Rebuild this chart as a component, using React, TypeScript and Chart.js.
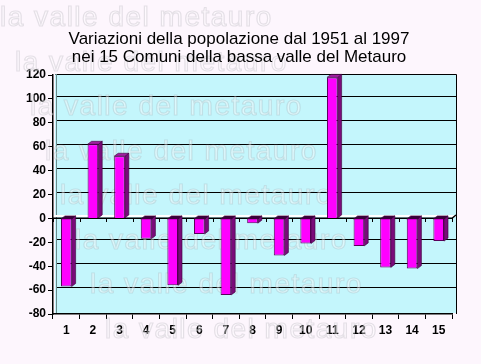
import React, { useEffect, useRef } from "react";
import { Chart, registerables } from "chart.js";

Chart.register(...registerables);

const categories = ["1", "2", "3", "4", "5", "6", "7", "8", "9", "10", "11", "12", "13", "14", "15"];
const values = [-57, 62, 52, -17, -56, -13, -64, -4, -31, -21, 118, -23, -41, -42, -19];
const yMin = -80;
const yMax = 120;
const yStep = 20;
const titleLines = [
  "Variazioni della popolazione dal 1951 al 1997",
  "nei 15 Comuni della bassa valle del Metauro",
];
const watermarkText = "la valle del metauro";

const FONT = '"Liberation Sans", Arial, sans-serif';
const BG = "#FDF6FD";
const WALL = "#C4F6FC";
const DX = 4;
const DY = -3;

const decorPlugin = {
  id: "decor",
  beforeDraw(chart: any) {
    const { ctx, chartArea: ca, scales } = chart;
    const y = scales.y;
    ctx.save();
    ctx.fillStyle = BG;
    ctx.fillRect(0, 0, chart.width, chart.height);
    // back wall
    const wl = ca.left + 2;
    const wr = ca.right + DX;
    const wt = y.getPixelForValue(yMax) + DY + 2;
    const wb = y.getPixelForValue(yMin) - 1;
    ctx.fillStyle = WALL;
    ctx.fillRect(wl, wt, wr - wl, wb - wt);
    // gridlines on back wall
    ctx.strokeStyle = "#000";
    ctx.lineWidth = 1;
    for (let v = yMin + yStep; v < yMax; v += yStep) {
      if (v === 0) continue;
      const py = Math.round(y.getPixelForValue(v) + DY) + 0.5;
      ctx.beginPath();
      ctx.moveTo(wl + 1, py);
      ctx.lineTo(wr, py);
      ctx.stroke();
    }
    // wall border
    ctx.strokeStyle = "#000";
    ctx.beginPath();
    ctx.moveTo(wl + 0.5, Math.round(wt) + 0.5);
    ctx.lineTo(wr + 0.5, Math.round(wt) + 0.5);
    ctx.lineTo(wr + 0.5, wb + 1);
    ctx.stroke();
    // left wall shade line
    ctx.strokeStyle = "#6a8a8c";
    ctx.beginPath();
    ctx.moveTo(wl + 1.5, wt);
    ctx.lineTo(wl + 1.5, wb);
    ctx.stroke();
    // zero slab
    const y0 = Math.round(y.getPixelForValue(0));
    ctx.fillStyle = "#ffffff";
    ctx.fillRect(ca.left, y0 - 3, ca.right - ca.left + DX, 2);
    ctx.strokeStyle = "#000";
    ctx.lineWidth = 1.5;
    ctx.beginPath();
    ctx.moveTo(ca.left, y0 + 0.25);
    ctx.lineTo(ca.right, y0 + 0.25);
    ctx.lineTo(ca.right + DX, y0 + DY);
    ctx.stroke();
    ctx.lineWidth = 1;
    const n = categories.length;
    const cw = (ca.right - ca.left) / n;
    for (let i = 0; i <= n; i++) {
      const px = Math.round(ca.left + i * cw) + 0.5;
      ctx.beginPath();
      ctx.moveTo(px, y0);
      ctx.lineTo(px, y0 + 4);
      ctx.stroke();
    }
    ctx.restore();
  },
  beforeDatasetsDraw(chart: any) {
    const { ctx } = chart;
    ctx.save();
    ctx.font = `28px ${FONT}`;
    try {
      (ctx as any).letterSpacing = "1.5px";
    } catch (e) {}
    ctx.textBaseline = "alphabetic";
    ctx.textAlign = "left";
    ctx.lineWidth = 1.2;
    ctx.strokeStyle = "rgba(140,140,150,0.22)";
    ctx.fillStyle = "rgba(255,255,255,0.4)";
    for (let i = 0; i < 8; i++) {
      const x = i * 15;
      const by = 26 + i * 44.5;
      ctx.fillText(watermarkText, x, by);
      ctx.strokeText(watermarkText, x, by);
    }
    ctx.restore();
  },
  afterDatasetsDraw(chart: any) {
    const { ctx } = chart;
    const meta = chart.getDatasetMeta(0);
    ctx.save();
    meta.data.forEach((bar: any) => {
      const w = bar.width;
      const x0 = bar.x - w / 2;
      const x1 = bar.x + w / 2;
      const yTop = Math.min(bar.y, bar.base);
      const yBot = Math.max(bar.y, bar.base);
      ctx.fillStyle = "#7a0a7a";
      ctx.beginPath();
      ctx.moveTo(x1, yTop);
      ctx.lineTo(x1 + DX, yTop + DY);
      ctx.lineTo(x1 + DX, yBot + DY);
      ctx.lineTo(x1, yBot);
      ctx.closePath();
      ctx.fill();
      ctx.strokeStyle = "#3a003a";
      ctx.lineWidth = 0.6;
      ctx.stroke();
      ctx.fillStyle = bar.y < bar.base ? "#a020a0" : "#3a003a";
      ctx.beginPath();
      ctx.moveTo(x0, yTop);
      ctx.lineTo(x0 + DX, yTop + DY);
      ctx.lineTo(x1 + DX, yTop + DY);
      ctx.lineTo(x1, yTop);
      ctx.closePath();
      ctx.fill();
      ctx.stroke();
    });
    ctx.restore();
  },
  afterDraw(chart: any) {
    const { ctx } = chart;
    ctx.save();
    ctx.font = `17px ${FONT}`;
    ctx.fillStyle = "#000";
    ctx.textAlign = "center";
    ctx.textBaseline = "alphabetic";
    ctx.fillText(titleLines[0], 239, 44);
    ctx.fillText(titleLines[1], 239, 62);
    ctx.restore();
  },
};

export default function App() {
  const ref = useRef<HTMLCanvasElement | null>(null);
  useEffect(() => {
    if (!ref.current) return;
    const chart = new Chart(ref.current, {
      type: "bar",
      data: {
        labels: categories,
        datasets: [
          {
            data: values,
            backgroundColor: "#FF00FF",
            borderColor: "#5a005a",
            borderWidth: 1,
            barPercentage: 0.4,
            categoryPercentage: 1,
          },
        ],
      },
      options: {
        responsive: false,
        animation: false,
        events: [],
        layout: { padding: { top: 75, right: 29, left: 0, bottom: 0 } },
        plugins: {
          legend: { display: false },
          title: { display: false },
          tooltip: { enabled: false },
        },
        scales: {
          x: {
            offset: true,
            grid: {
              offset: true,
              drawOnChartArea: false,
              drawTicks: true,
              tickLength: 5,
              color: "#000",
            },
            border: { display: true, color: "#000", width: 1.5 },
            ticks: {
              color: "#000",
              font: { family: FONT, size: 12, weight: "bold" },
              padding: 4,
              maxRotation: 0,
              autoSkip: false,
            },
            afterFit(s: any) {
              s.height = 50;
            },
          },
          y: {
            min: yMin,
            max: yMax,
            ticks: {
              stepSize: yStep,
              color: "#000",
              font: { family: FONT, size: 12, weight: "bold" },
              padding: 2,
            },
            grid: {
              drawOnChartArea: false,
              drawTicks: true,
              tickLength: 5,
              color: "#000",
            },
            border: { display: true, color: "#000", width: 1.5 },
            afterFit(s: any) {
              s.width = 53;
            },
          },
        },
      },
      plugins: [decorPlugin],
    } as any);
    return () => chart.destroy();
  }, []);
  return (
    <div style={{ position: "absolute", left: 0, top: 0, width: 481, height: 364, background: BG }}>
      <canvas ref={ref} width={481} height={364} style={{ display: "block" }} />
    </div>
  );
}
